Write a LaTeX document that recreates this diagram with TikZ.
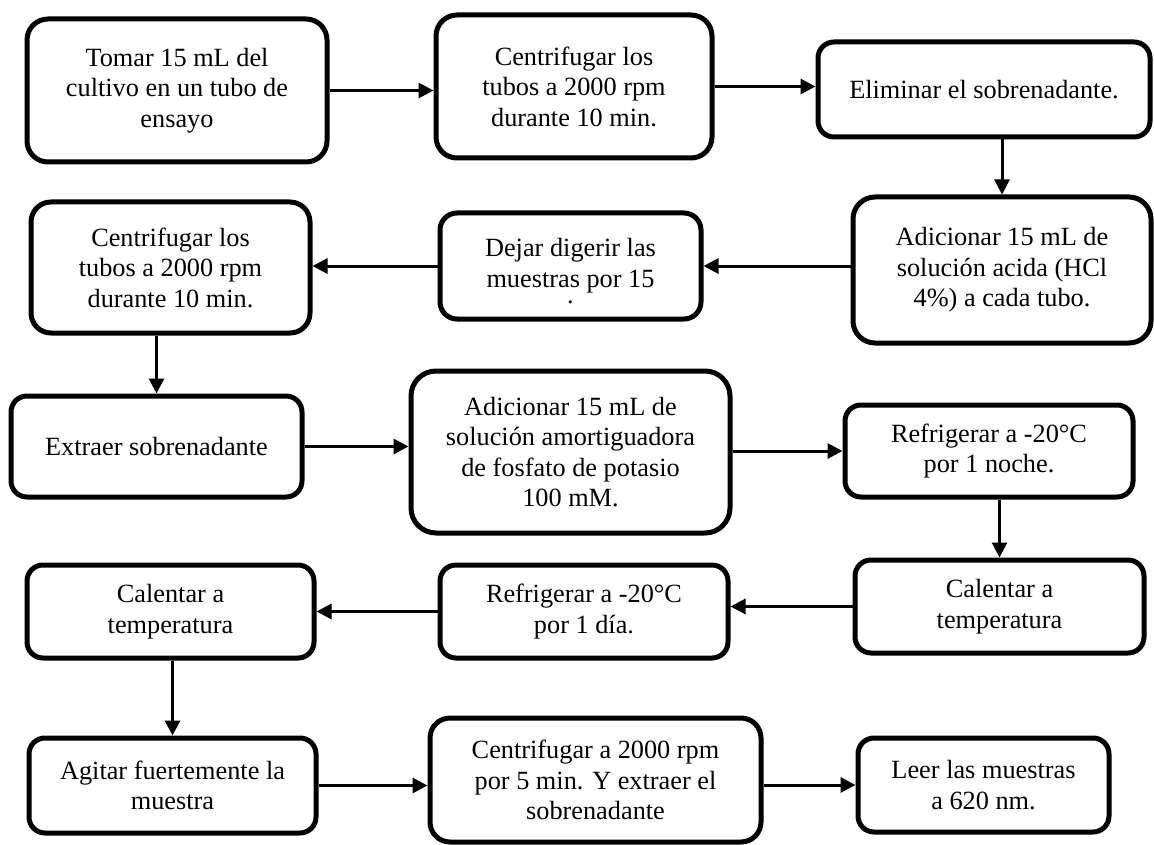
\documentclass[tikz,border=0pt]{standalone}
\usepackage{fontspec}
\setmainfont{Liberation Serif}
\usetikzlibrary{arrows.meta}
\begin{document}
\begin{tikzpicture}[x=1pt,y=-1pt,
  txt/.style={align=center, inner sep=0pt, font=\fontsize{26.3}{30.5}\selectfont},
  box/.style={draw, line width=5pt, txt, fill=white},
  arr/.style={line width=3pt, -{Triangle[length=15pt,width=15pt]}}]
\useasboundingbox (0,0) rectangle (1154,845);
% row 1
\node[box, minimum width=300pt, minimum height=143pt, rounded corners=21pt] (b1) at (177,90.5)
  {Tomar 15 mL del\\cultivo en un tubo de\\ensayo};
\node[box, minimum width=276pt, minimum height=143pt, rounded corners=21pt] (b2) at (574,86.5)
  {Centrifugar los\\tubos a 2000 rpm\\durante 10 min.};
\node[box, minimum width=332pt, minimum height=95pt, rounded corners=16pt] (b3) at (984,89.5)
  {Eliminar el sobrenadante.};
% row 2
\node[box, minimum width=298pt, minimum height=146pt, rounded corners=22pt] (b4) at (1002,270)
  {Adicionar 15 mL de\\solución acida (HCl\\4\%) a cada tubo.};
\node[box, minimum width=261pt, minimum height=106pt, rounded corners=17pt] (b5) at (570.5,266) {};
\node[txt] (t5) at (570.5,271.5)
  {Dejar digerir las\\muestras por 15\\[-14pt].};
\node[box, minimum width=279pt, minimum height=131pt, rounded corners=20pt] (b6) at (170.5,267.5)
  {Centrifugar los\\tubos a 2000 rpm\\durante 10 min.};
% row 3
\node[box, minimum width=291pt, minimum height=101pt, rounded corners=16pt] (b7) at (156.5,446.5)
  {Extraer sobrenadante};
\node[box, minimum width=319pt, minimum height=162pt, rounded corners=25pt] (b8) at (570.5,452)
  {Adicionar 15 mL de\\solución amortiguadora\\de fosfato de potasio\\100 mM.};
\node[box, minimum width=288pt, minimum height=92pt, rounded corners=16pt] (b9) at (989,451)
  {Refrigerar a -20°C\\por 1 noche.};
% row 4
\node[box, minimum width=289pt, minimum height=93pt, rounded corners=16pt] (b10) at (999.5,606.5)
  {Calentar a\\temperatura};
\node[box, minimum width=288pt, minimum height=93pt, rounded corners=16pt] (b11) at (584,611.5)
  {Refrigerar a -20°C\\por 1 día.};
\node[box, minimum width=287pt, minimum height=93pt, rounded corners=16pt] (b12) at (170.5,611.5)
  {Calentar a\\temperatura};
% row 5
\node[box, minimum width=287pt, minimum height=95pt, rounded corners=16pt] (b13) at (172.5,785.5)
  {Agitar fuertemente la\\muestra};
\node[box, minimum width=331pt, minimum height=124pt, rounded corners=20pt] (b14) at (595.5,780)
  {Centrifugar a 2000 rpm\\por 5 min. Y extraer el\\sobrenadante};
\node[box, minimum width=251pt, minimum height=94pt, rounded corners=16pt] (b15) at (983.5,785)
  {Leer las muestras\\a 620 nm.};
% connectors
\draw[arr] (b1.east) -- (b1.east -| b2.west);
\draw[arr] (b2.east) -- (b2.east -| b3.west);
\draw[arr] (b3.south -| b4.north) -- (b4.north);
\draw[arr] (b4.west |- b5.east) -- (b5.east);
\draw[arr] (b5.west) -- (b5.west -| b6.east);
\draw[arr] (b6.south -| b7.north) -- (b7.north);
\draw[arr] (b7.east) -- (b7.east -| b8.west);
\draw[arr] (b8.east |- b9.west) -- (b9.west);
\draw[arr] (b9.south -| b10.north) -- (b10.north);
\draw[arr] (b10.west) -- (b10.west -| b11.east);
\draw[arr] (b11.west) -- (b11.west -| b12.east);
\draw[arr] (b12.south -| b13.north) -- (b13.north);
\draw[arr] (b13.east) -- (b13.east -| b14.west);
\draw[arr] (b14.east |- b15.west) -- (b15.west);
\end{tikzpicture}
\end{document}
